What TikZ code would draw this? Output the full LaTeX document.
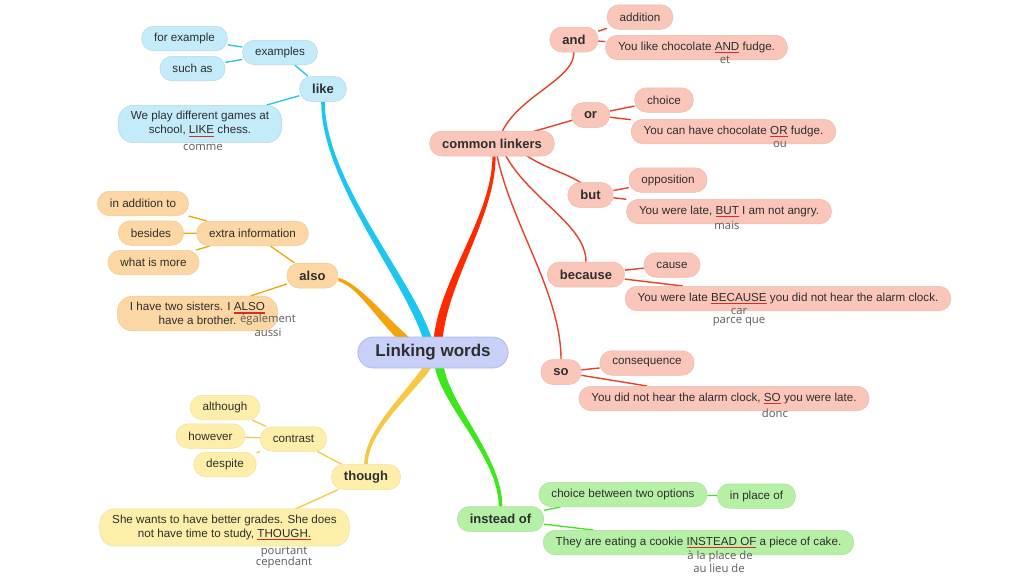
\documentclass[tikz,border=0pt]{standalone}
\usepackage{fontspec}
\setmainfont{Liberation Sans}
\newfontfamily\trfont{Open Sans}
\usetikzlibrary{calc}
\pgfdeclarelayer{bg}
\pgfdeclarelayer{paper}
\pgfsetlayers{paper,bg,main}
\definecolor{txt}{HTML}{2E2E2E}
\definecolor{trc}{HTML}{5C5C5C}
\definecolor{ulred}{HTML}{E02A2A}
\definecolor{bline}{HTML}{1CC6F0}
\definecolor{bfill}{HTML}{C4EBFA}
\definecolor{rline}{HTML}{FF2A00}
\definecolor{rthin}{HTML}{E8402A}
\definecolor{rfill}{HTML}{FBC6BA}
\definecolor{oline}{HTML}{F5A30A}
\definecolor{ofill}{HTML}{FCD7A3}
\definecolor{yline}{HTML}{F7C843}
\definecolor{yfill}{HTML}{FDEFAA}
\definecolor{gline}{HTML}{3EE61C}
\definecolor{gfill}{HTML}{B6F0A6}
\definecolor{cfill}{HTML}{C8D0F7}
\definecolor{cdraw}{HTML}{AEB9EF}
\newcommand\leaffont{\fontsize{11.65}{14}\selectfont}
\newcommand\headfont{\fontsize{13}{15}\selectfont\bfseries}
\newcommand\rootfont{\fontsize{17}{20}\selectfont\bfseries}
\newcommand\trf{\trfont\fontsize{11.3}{11.5}\selectfont}
\newcommand\kw[1]{{\setbox0=\hbox{#1}\rlap{\color{ulred}\rule[-3pt]{\wd0}{1.2pt}}\box0}}
\tikzset{
  box/.style={rounded corners=12pt, minimum height=24.5pt, inner xsep=12.5pt, inner ysep=5pt, text=txt, align=center, line width=0.5pt},
  leaf/.style={box, font=\leaffont},
  twoline/.style={leaf, rounded corners=15pt, inner ysep=6pt},
  head/.style={box, font=\headfont, minimum height=25pt},
  bN/.style={fill=bfill, draw=bfill!92!black},
  rN/.style={fill=rfill, draw=rfill!94!black},
  oN/.style={fill=ofill, draw=ofill!94!black},
  yN/.style={fill=yfill, draw=yfill!94!black},
  gN/.style={fill=gfill, draw=gfill!94!black},
  tr/.style={text=trc, font=\trf, inner sep=0pt},
  thinB/.style={draw=bline, line width=1.3pt},
  thinR/.style={draw=rthin, line width=1.4pt},
  thinO/.style={draw=oline, line width=1.3pt},
  thinY/.style={draw=yline, line width=1.3pt},
  thinG/.style={draw=gline, line width=1.3pt},
}
\begin{document}
\begin{tikzpicture}[x=1pt,y=-1pt]
\useasboundingbox (0,0) rectangle (1024,576);
\begin{pgfonlayer}{paper}
\fill[white] (0,0) rectangle (1024,576);
\end{pgfonlayer}
% ---------- nodes ----------
\path
  node[box, font=\rootfont, minimum height=31pt, inner xsep=17.5pt, rounded corners=15.5pt, fill=cfill, draw=cdraw, line width=0.8pt] (root) at (433,352.5) {Linking words}
  node[head,bN] (like) at (323,89) {like}
  node[leaf,bN] (examples) at (280,52.5) {examples}
  node[leaf,bN] (forex) at (184.5,38.5) {for example}
  node[leaf,bN] (suchas) at (192.5,68.5) {such as}
  node[twoline,bN] (likeS) at (200,124) {We play different games at\\ school, \kw{LIKE} chess.}
  node[head,rN] (cl) at (492,143.5) {common linkers}
  node[head,rN] (and) at (574,39.5) {and}
  node[leaf,rN] (addition) at (640,17) {addition}
  node[leaf,rN] (andS) at (696.5,47.5) {You like chocolate \kw{AND} fudge.}
  node[head,rN] (or) at (590.5,115) {or}
  node[leaf,rN] (choice) at (664,100) {choice}
  node[leaf,rN] (orS) at (733.5,131.5) {You can have chocolate \kw{OR} fudge.}
  node[head,rN] (but) at (590.5,195) {but}
  node[leaf,rN] (opp) at (668,180) {opposition}
  node[leaf,rN] (butS) at (729,211.5) {You were late, \kw{BUT} I am not angry.}
  node[head,rN] (because) at (586,274.5) {because}
  node[leaf,rN] (cause) at (672,265) {cause}
  node[leaf,rN] (becS) at (788,298.5) {You were late \kw{BECAUSE} you did not hear the alarm clock.}
  node[head,rN] (so) at (561,372) {so}
  node[leaf,rN] (conseq) at (647,363) {consequence}
  node[leaf,rN] (soS) at (724,398.5) {You did not hear the alarm clock, \kw{SO} you were late.}
  node[head,oN] (also) at (312.5,275.5) {also}
  node[leaf,oN] (extra) at (252.5,233.5) {extra information}
  node[leaf,oN] (inadd) at (143,203.5) {in addition to}
  node[leaf,oN] (besides) at (151,233) {besides}
  node[leaf,oN] (whatmore) at (153.5,262.5) {what is more}
  node[twoline,oN] (alsoS) at (197.5,313.5) {I have two sisters. I \kw{ALSO}\\ have a brother.}
  node[head,yN] (though) at (366,477) {though}
  node[leaf,yN] (contrast) at (293.5,439) {contrast}
  node[leaf,yN] (although) at (225,407.5) {although}
  node[leaf,yN] (however) at (210.5,436) {however}
  node[leaf,yN] (despite) at (225,464.5) {despite}
  node[twoline,yN] (thoughS) at (224.5,527.5) {She wants to have better grades. She does\\ not have time to study, \kw{THOUGH.}}
  node[head,gN] (instead) at (500.5,519) {instead of}
  node[leaf,gN] (choice2) at (623,494.5) {choice between two options}
  node[leaf,gN] (inplace) at (756.5,496) {in place of}
  node[leaf,gN] (insteadS) at (698.5,542.5) {They are eating a cookie \kw{INSTEAD OF} a piece of cake.};
% ---------- translations ----------
\node[tr] (t1) at (203,147) {comme};
\node[tr] (t2) at (725,60) {et};
\node[tr] (t3) at (780,144) {ou};
\node[tr] (t4) at (727,225) {mais};
\node[tr] (t5) at (739,311) {car};
\node[tr] (t6) at (739,322) {parce que};
\node[tr] (t7) at (775,413) {donc};
\node[tr] (t8) at (720,557) {à la place de};
\node[tr] (t9) at (719,568) {au lieu de};
\node[tr] (t10) at (268,320) {également};
\node[tr] (t11) at (268,332) {aussi};
\node[tr] (t12) at (284,552) {pourtant};
\node[tr] (t13) at (284,563) {cependant};
% ---------- connectors ----------
\begin{pgfonlayer}{bg}
\coordinate (bS) at ([xshift=-5pt,yshift=-4pt]root.north);
\coordinate (bE) at (like.south);
\coordinate (rS) at ([xshift=5pt,yshift=-4pt]root.north);
\coordinate (rE) at ([xshift=2pt]cl.south);
\coordinate (oS) at ([xshift=-27pt,yshift=-4pt]root.north);
\coordinate (oE) at ([yshift=-4pt]also.east);
\coordinate (yS) at ([xshift=-4pt,yshift=4pt]root.south);
\coordinate (yE) at (though.north);
\coordinate (gS) at ([xshift=6pt,yshift=4pt]root.south);
\coordinate (gE) at (instead.north);
% tapered main branches
\fill[bline] ([xshift=-4.5pt]bS) .. controls +(-18,-60) and +(0,80) .. ([xshift=-1.8pt]bE)
  -- ([xshift=1.8pt]bE) .. controls +(0,80) and +(-18,-60) .. ([xshift=4.5pt]bS) -- cycle;
\fill[rline] ([xshift=-4.5pt]rS) .. controls +(5,-60) and +(0,60) .. ([xshift=-1.6pt]rE)
  -- ([xshift=1.6pt]rE) .. controls +(0,60) and +(5,-60) .. ([xshift=4.5pt]rS) -- cycle;
\fill[oline] ([shift={(-3.2,3.2)}]oS) .. controls +(-25,-22) and +(20,5) .. ([shift={(0,1.8)}]oE)
  -- ([shift={(0,-1.8)}]oE) .. controls +(20,5) and +(-25,-22) .. ([shift={(3.2,-3.2)}]oS) -- cycle;
\fill[yline] ([xshift=-4.5pt]yS) .. controls +(-15,25) and +(0,-35) .. ([xshift=-1.8pt]yE)
  -- ([xshift=1.8pt]yE) .. controls +(0,-35) and +(-15,25) .. ([xshift=4.5pt]yS) -- cycle;
\fill[gline] ([xshift=-4.5pt]gS) .. controls +(5,40) and +(0,-50) .. ([xshift=-1.8pt]gE)
  -- ([xshift=1.8pt]gE) .. controls +(0,-50) and +(5,40) .. ([xshift=4.5pt]gS) -- cycle;
% red second level
\draw[thinR] ([xshift=6pt]cl.center) .. controls +(10,-45) and +(0,30) .. (and.south);
\draw[thinR] (cl.center) -- (or.center);
\draw[thinR] ([xshift=20pt]cl.center) .. controls +(25,25) and +(-20,-15) .. ([xshift=-6pt,yshift=-3pt]but.north);
\draw[thinR] ([xshift=8pt]cl.center) .. controls +(20,52) and +(0,-40) .. (because.north);
\draw[thinR] ([xshift=3pt]cl.center) .. controls +(10,72) and +(0,-70) .. (so.north);
% leaves
\draw[thinB] (like) -- (examples);
\draw[thinB] (examples) -- (forex);
\draw[thinB] (examples) -- (suchas);
\draw[thinB] (like) -- (likeS);
\draw[thinR] (and) -- (addition);
\draw[thinR] (and) -- (andS);
\draw[thinR] (or) -- (choice);
\draw[thinR] (or) -- (orS);
\draw[thinR] (but) -- (opp);
\draw[thinR] (but) -- (butS);
\draw[thinR] (because) -- (cause);
\draw[thinR] (because) -- (becS);
\draw[thinR] (so) -- (conseq);
\draw[thinR] (so) -- (soS);
\draw[thinO] (also) -- (extra);
\draw[thinO] (extra) -- (inadd);
\draw[thinO] (extra) -- (besides);
\draw[thinO] (extra) -- (whatmore);
\draw[thinO] (also) -- (alsoS);
\draw[thinY] (though) -- (contrast);
\draw[thinY] (contrast) -- (although);
\draw[thinY] (contrast) -- (however);
\draw[thinY] (contrast) -- (despite);
\draw[thinY] (though) -- ([xshift=30pt]thoughS.center);
\draw[thinG] (instead) -- (choice2);
\draw[thinG] (choice2) -- (inplace);
\draw[thinG] (instead) -- (insteadS);
\end{pgfonlayer}
\end{tikzpicture}
\end{document}
